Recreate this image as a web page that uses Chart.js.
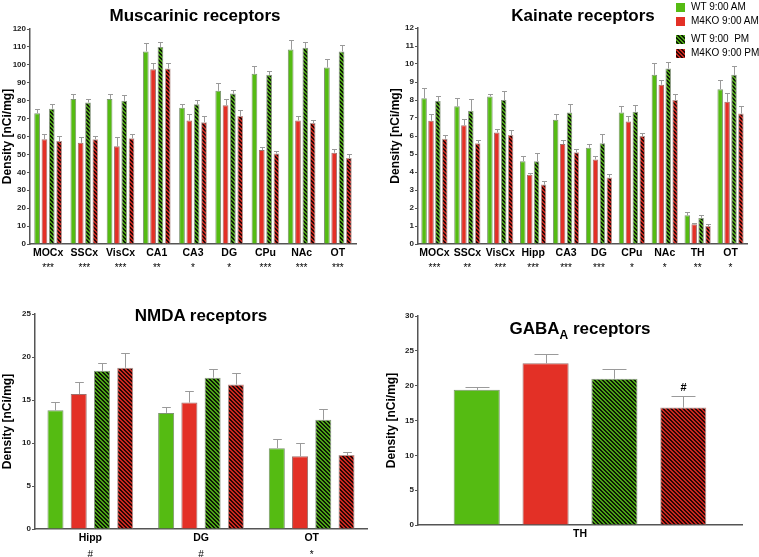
<!DOCTYPE html>
<html><head><meta charset="utf-8">
<script src="https://cdn.jsdelivr.net/npm/chart.js@4/dist/chart.umd.min.js"></script>
<style>
html,body{margin:0;padding:0;background:#fff}
body{width:759px;height:557px;position:relative;overflow:hidden;font-family:"Liberation Sans",Arial,sans-serif;color:#000}
canvas{position:absolute}
.title{position:absolute;font-weight:bold;font-size:17px;transform:translate(-50%,-50%);white-space:nowrap}
.title sub{font-size:12px;vertical-align:-5px}
.leg{position:absolute;left:676px;font-size:10px;line-height:12px;white-space:nowrap}
.leg .row{position:absolute;left:0;display:flex;align-items:center;transform:translateY(-50%)}
.leg .box{width:9px;height:9px;margin-right:6px;box-sizing:border-box}
</style>
</head><body>
<canvas id="c1" width="380" height="280" style="left:0;top:0"></canvas>
<canvas id="c2" width="379" height="280" style="left:380px;top:0"></canvas>
<canvas id="c3" width="380" height="277" style="left:0;top:280px"></canvas>
<canvas id="c4" width="379" height="277" style="left:380px;top:280px"></canvas>
<div class="title" style="left:195px;top:16px">Muscarinic receptors</div>
<div class="title" style="left:583px;top:16px">Kainate receptors</div>
<div class="title" style="left:201px;top:316px">NMDA receptors</div>
<div class="title" style="left:580px;top:330px">GABA<sub>A</sub> receptors</div>
<div class="leg" id="legend" style="top:0"></div>
<script>
// ---------- data ----------
const seriesNames = ['WT 9:00 AM', 'M4KO 9:00 AM', 'WT 9:00  PM', 'M4KO 9:00 PM'];

const musCats = ['MOCx', 'SSCx', 'VisCx', 'CA1', 'CA3', 'DG', 'CPu', 'NAc', 'OT'];
const musSig = ['***', '***', '***', '**', '*', '*', '***', '***', '***'];
const musWtAm = [73, 81, 81, 107.5, 76, 85.5, 95, 108.5, 98.5];
const musWtAmErr = [2.2, 3, 3, 4.5, 2.4, 4.6, 4.6, 5.5, 4.5];
const musKoAm = [58.5, 56.5, 54.5, 97.5, 69, 77.5, 52.5, 69, 51];
const musKoAmErr = [3, 3.2, 5, 3.8, 3.8, 3.3, 1.5, 2.7, 2];
const musWtPm = [75.5, 79, 80, 110, 78, 84, 94.5, 109.5, 107.5];
const musWtPmErr = [2.8, 2.2, 3, 3, 2.6, 2.2, 2.2, 3, 3.6];
const musKoPm = [57.5, 58.5, 59, 98, 68, 71.5, 50.5, 67.5, 48];
const musKoPmErr = [2.7, 1.8, 2.6, 3.3, 3.3, 3.2, 1.2, 1.5, 2.2];

const kaiCats = ['MOCx', 'SSCx', 'VisCx', 'Hipp', 'CA3', 'DG', 'CPu', 'NAc', 'TH', 'OT'];
const kaiSig = ['***', '**', '***', '***', '***', '***', '*', '*', '**', '*'];
const kaiWtAm = [8.1, 7.65, 8.2, 4.6, 6.9, 5.35, 7.3, 9.4, 1.6, 8.6];
const kaiWtAmErr = [0.55, 0.45, 0.15, 0.3, 0.3, 0.2, 0.35, 0.65, 0.2, 0.5];
const kaiKoAm = [6.85, 6.6, 6.2, 3.85, 5.55, 4.7, 6.8, 8.85, 1.1, 7.9];
const kaiKoAmErr = [0.35, 0.35, 0.2, 0.1, 0.25, 0.2, 0.3, 0.25, 0.05, 0.5];
const kaiWtPm = [7.95, 7.4, 8.0, 4.6, 7.3, 5.6, 7.35, 9.75, 1.45, 9.4];
const kaiWtPmErr = [0.3, 0.65, 0.5, 0.45, 0.45, 0.5, 0.35, 0.35, 0.15, 0.5];
const kaiKoPm = [5.85, 5.6, 6.05, 3.3, 5.1, 3.7, 6.0, 8.0, 1.0, 7.25];
const kaiKoPmErr = [0.2, 0.2, 0.3, 0.2, 0.2, 0.2, 0.15, 0.35, 0.1, 0.4];

const nmdaCats = ['Hipp', 'DG', 'OT'];
const nmdaSig = ['#', '#', '*'];
const nmdaWtAm = [13.8, 13.5, 9.4];
const nmdaWtAmErr = [1.0, 0.65, 1.1];
const nmdaKoAm = [15.7, 14.7, 8.45];
const nmdaKoAmErr = [1.45, 1.3, 1.5];
const nmdaWtPm = [18.4, 17.6, 12.7];
const nmdaWtPmErr = [0.9, 0.95, 1.25];
const nmdaKoPm = [18.75, 16.8, 8.6];
const nmdaKoPmErr = [1.75, 1.3, 0.3];

const gabaCats = ['TH'];
const gabaWtAm = [19.4];
const gabaWtAmErr = [0.4];
const gabaKoAm = [23.2];
const gabaKoAmErr = [1.4];
const gabaWtPm = [21.0];
const gabaWtPmErr = [1.35];
const gabaKoPm = [16.85];
const gabaKoPmErr = [1.6];
const gabaMarks = [[''], [''], [''], ['#']];

// ---------- styles ----------
const FONT = '"Liberation Sans", Arial, sans-serif';
Chart.defaults.font.family = FONT;
Chart.defaults.color = '#000';
const GREEN = '#55bb12', RED = '#e33026';
function hatch(fg, bg) {
  const c = document.createElement('canvas'); c.width = 4; c.height = 4;
  const x = c.getContext('2d');
  x.fillStyle = bg; x.fillRect(0, 0, 4, 4);
  x.fillStyle = fg;
  for (let i = 0; i < 4; i++) { x.fillRect(i, i, 1, 1); x.fillRect((i + 1) % 4, i, 1, 1); }
  return x.createPattern(c, 'repeat');
}
const fills = [GREEN, RED, hatch('#4ca515', '#0d1a05'), hatch('#c9271f', '#2a0604')];
const borders = ['#7d9470', '#a0706c', '#8a9a82', '#b89894'];

// legend (HTML)
(function () {
  const css = [GREEN, RED,
    'repeating-linear-gradient(45deg,#4ca515 0 1.4px,#0d1a05 1.4px 2.8px)',
    'repeating-linear-gradient(45deg,#c9271f 0 1.4px,#2a0604 1.4px 2.8px)'];
  const tops = [7, 21, 39, 53];
  const L = document.getElementById('legend');
  seriesNames.forEach((n, i) => {
    const r = document.createElement('div'); r.className = 'row'; r.style.top = tops[i] + 'px';
    const b = document.createElement('div'); b.className = 'box'; b.style.background = css[i];
    const t = document.createElement('span'); t.textContent = n; t.style.whiteSpace = 'pre';
    r.appendChild(b); r.appendChild(t); L.appendChild(r);
  });
})();

const errPlugin = {
  id: 'errbars',
  afterDatasetsDraw(chart, args, opts) {
    const ctx = chart.ctx, ys = chart.scales.y;
    ctx.save();
    ctx.strokeStyle = '#9a9a9a'; ctx.lineWidth = 1;
    chart.data.datasets.forEach((ds, di) => {
      const meta = chart.getDatasetMeta(di);
      meta.data.forEach((el, i) => {
        const v = ds.data[i], e = opts.errors[di][i];
        const base = ys.getPixelForValue(v);
        const top = Math.round(ys.getPixelForValue(v + e)) + 0.5;
        const hw = Math.max(2.5, el.width * opts.cap);
        const x = Math.round(el.x) + 0.5;
        ctx.beginPath();
        ctx.moveTo(x, base); ctx.lineTo(x, top);
        ctx.moveTo(x - hw, top); ctx.lineTo(x + hw, top);
        ctx.stroke();
        if (opts.marks && opts.marks[di][i]) {
          ctx.fillStyle = '#000';
          ctx.font = 'bold 11px ' + FONT;
          ctx.textAlign = 'center'; ctx.textBaseline = 'bottom';
          ctx.fillText(opts.marks[di][i], x, top - 3);
        }
      });
    });
    ctx.restore();
  }
};

function makeChart(id, cfg) {
  const ds = cfg.values.map((vals, i) => ({
    label: seriesNames[i], data: vals, xAxisID: 'x', yAxisID: 'y',
    backgroundColor: fills[i], borderColor: borders[i], borderWidth: 1,
    categoryPercentage: cfg.catPct, barPercentage: cfg.barPct
  }));
  const scales = {
    x: {
      type: 'category', position: 'bottom', offset: true,
      grid: { display: false, drawTicks: false },
      border: { display: true, color: '#555', width: 1.5 },
      ticks: { font: { size: 10.5, weight: 'bold' }, color: '#000', padding: 3, maxRotation: 0, autoSkip: false },
      afterFit(s) { s.height = cfg.xH; }
    },
    y: {
      min: 0, max: cfg.max,
      ticks: { stepSize: cfg.step, font: { size: 8, weight: 'bold' }, color: '#222', padding: 1 },
      grid: { drawOnChartArea: false, drawTicks: true, tickLength: 3, color: '#555' },
      border: { display: true, color: '#555', width: 1.5 },
      title: { display: true, text: 'Density [nCi/mg]', font: { size: 12, weight: 'bold' }, color: '#000', padding: 0 },
      afterFit(s) { s.width = cfg.yW; }
    }
  };
  if (cfg.sig) {
    scales.x2 = {
      type: 'category', position: 'bottom', offset: true, labels: cfg.sig,
      grid: { display: false, drawTicks: false }, border: { display: false },
      ticks: { font: { size: 10 }, color: '#000', padding: cfg.sigPad, maxRotation: 0, autoSkip: false },
      afterFit(s) { s.height = cfg.x2H; }
    };
  }
  return new Chart(document.getElementById(id), {
    type: 'bar',
    data: { labels: cfg.cats, datasets: ds },
    options: {
      responsive: false, animation: false, devicePixelRatio: 1,
      layout: { padding: cfg.pad },
      plugins: { legend: { display: false }, tooltip: { enabled: false }, errbars: { errors: cfg.errors, marks: cfg.marks, cap: cfg.cap } },
      scales
    },
    plugins: [errPlugin]
  });
}

makeChart('c1', {
  cats: musCats, sig: musSig, max: 120, step: 10,
  values: [musWtAm, musKoAm, musWtPm, musKoPm],
  errors: [musWtAmErr, musKoAmErr, musWtPmErr, musKoPmErr],
  catPct: 0.81, barPct: 0.78, cap: 0.3,
  pad: { left: 0, top: 29, right: 24, bottom: 4 }, yW: 30, xH: 18, x2H: 14, sigPad: 0
});
makeChart('c2', {
  cats: kaiCats, sig: kaiSig, max: 12, step: 1,
  values: [kaiWtAm, kaiKoAm, kaiWtPm, kaiKoPm],
  errors: [kaiWtAmErr, kaiKoAmErr, kaiWtPmErr, kaiKoPmErr],
  catPct: 0.84, barPct: 0.8, cap: 0.3,
  pad: { left: 8, top: 28, right: 12, bottom: 4 }, yW: 30, xH: 18, x2H: 14, sigPad: 0
});
makeChart('c3', {
  cats: nmdaCats, sig: nmdaSig, max: 25, step: 5,
  values: [nmdaWtAm, nmdaKoAm, nmdaWtPm, nmdaKoPm],
  errors: [nmdaWtAmErr, nmdaKoAmErr, nmdaWtPmErr, nmdaKoPmErr],
  catPct: 0.84, barPct: 0.69, cap: 0.27,
  pad: { left: 0, top: 34, right: 13, bottom: 0 }, yW: 35, xH: 16, x2H: 12, sigPad: 4
});
makeChart('c4', {
  cats: gabaCats, max: 30, step: 5,
  values: [gabaWtAm, gabaKoAm, gabaWtPm, gabaKoPm],
  errors: [gabaWtAmErr, gabaKoAmErr, gabaWtPmErr, gabaKoPmErr],
  marks: gabaMarks,
  catPct: 0.85, barPct: 0.67, cap: 0.26,
  pad: { left: 4, top: 36, right: 17, bottom: 0 }, yW: 34, xH: 32
});
</script>
</body></html>
